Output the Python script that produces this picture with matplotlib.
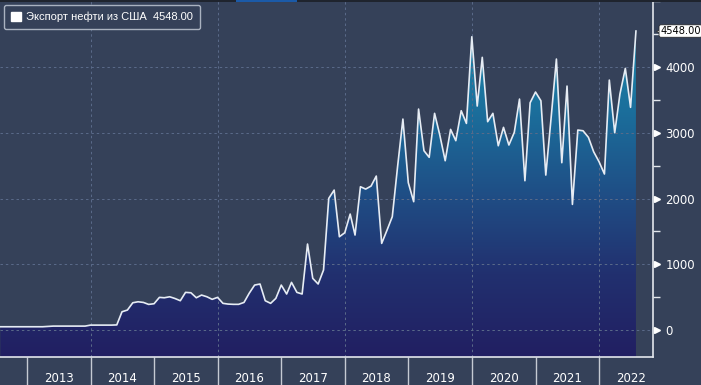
import numpy as np
import pandas as pd
import matplotlib
matplotlib.use('Agg')
import matplotlib.pyplot as plt
import matplotlib.dates as mdates
from matplotlib.colors import LinearSegmentedColormap
from matplotlib.patches import Patch, Rectangle
from matplotlib.transforms import ScaledTranslation

# Monthly US crude exports, thousand barrels per day
months = pd.date_range('2012-08-01', '2022-08-01', freq='MS')
exports = [
    50, 50, 50, 50, 50, 50, 50, 50, 50,
    55, 60, 60, 60, 60, 60, 60, 60,
    75, 75, 75, 75, 75, 78,
    278, 304, 415, 430, 420, 390, 400, 497, 491, 506, 480, 446,
    573, 567, 491, 532, 506, 467, 497, 406, 395, 391, 391, 420,
    560, 684, 700, 446, 406, 482, 684, 548, 725, 573, 548, 1308,
    786, 700, 913, 2003, 2129, 1419, 1480, 1764, 1445, 2180, 2144, 2190,
    2342, 1318, 1521, 1724, 2500, 3209, 2241, 1952, 3361, 2728, 2627, 3296,
    2966, 2575, 3052, 2880, 3336, 3143, 4461, 3407, 4148, 3169, 3296, 2803,
    3083, 2814, 3007, 3513, 2271, 3457, 3620, 3487, 2357, 3240, 4122, 2545,
    3711, 1911, 3042, 3031, 2931, 2712, 2560, 2373, 3802, 3001, 3589, 3980,
    3387, 4548,
]
series_label = 'Экспорт нефти из США'
last_value = exports[-1]

y_major = [0, 1000, 2000, 3000, 4000]
y_minor = [500, 1500, 2500, 3500, 4500, 5000]
years = list(range(2013, 2023))

bg = '#354159'
line_col = '#e6ecf4'
axis_col = '#e2e6ec'
grid_col = '#5b6b8a'

fig = plt.figure(figsize=(7.01, 3.85), dpi=100, facecolor=bg)
ax = fig.add_axes([0, 28 / 385, 653 / 701, 357 / 385], facecolor=bg)

x = mdates.date2num(months)
y = np.array(exports, dtype=float)
ymin, ymax = -410, 5020
xmin = mdates.date2num(pd.Timestamp('2012-07-30'))
xmax = mdates.date2num(pd.Timestamp('2022-11-07'))

# gradient area under the line
cmap = LinearSegmentedColormap.from_list('fill', ['#211f62', '#22306f', '#1f4f86', '#1b6f9c', '#1d88aa'])
fill = ax.fill_between(x, ymin, y, facecolor='none', edgecolor='none')
grad = np.linspace(0, 1, 256).reshape(-1, 1)
im = ax.imshow(grad, extent=[x[0], x[-1], ymin, 4600], origin='lower', aspect='auto',
               cmap=cmap, zorder=1)
im.set_clip_path(fill.get_paths()[0], transform=ax.transData)

ax.plot(x, y, color=line_col, lw=1.2, zorder=3)

ax.set_xlim(xmin, xmax)
ax.set_ylim(ymin, ymax)

# grid
for v in y_major + [5000]:
    ax.axhline(v, color=grid_col, lw=0.7, ls=(0, (2.5, 3)), zorder=2)
for yr in range(2014, 2023, 2):
    ax.axvline(mdates.date2num(pd.Timestamp(f'{yr}-01-01')), color=grid_col, lw=0.7,
               ls=(0, (2.5, 3)), zorder=2)

# spines
for s in ['top', 'left']:
    ax.spines[s].set_visible(False)
for s in ['right', 'bottom']:
    ax.spines[s].set_color(axis_col)
    ax.spines[s].set_linewidth(1.2)

# right axis
ax.yaxis.tick_right()
ax.set_yticks(y_major)
ax.set_yticklabels([str(v) for v in y_major])
ax.set_yticks(y_minor, minor=True)
ax.tick_params(axis='y', which='major', length=0, pad=9, labelsize=8.5, labelcolor='white')
ax.tick_params(axis='y', which='minor', length=5, width=1, color=axis_col, direction='out')
tri = ax.get_yaxis_transform() + ScaledTranslation(2.8 / 72, 0, fig.dpi_scale_trans)
ax.plot([1] * len(y_major), y_major, marker='>', ms=4.2, color='white', ls='none',
        transform=tri, clip_on=False, zorder=5)

# x axis: year separators + centered labels
ax.set_xticks([mdates.date2num(pd.Timestamp(f'{yr}-01-01')) for yr in years], minor=True)
ax.set_xticks([mdates.date2num(pd.Timestamp(f'{yr}-07-02')) for yr in years])
ax.set_xticklabels([str(yr) for yr in years])
ax.tick_params(axis='x', which='minor', length=21, width=1, color='#c5cad3', direction='out')
ax.tick_params(axis='x', which='major', length=0, pad=11, labelsize=8.5, labelcolor='white')

# last value tag: small pointer + white box
ptr = ax.get_yaxis_transform() + ScaledTranslation(4 / 72, 0, fig.dpi_scale_trans)
ax.plot([1], [last_value], marker='<', ms=5, color='white', mec='#222222', mew=0.5,
        ls='none', transform=ptr, clip_on=False, zorder=6)
ax.annotate(f'{last_value:.2f}', xy=(1, last_value), xycoords=ax.get_yaxis_transform(),
            xytext=(5.2, 0), textcoords='offset points', va='center', ha='left',
            fontsize=7.1, color='black', annotation_clip=False, zorder=7,
            bbox=dict(boxstyle='round,pad=0.12,rounding_size=0.2', fc='white',
                      ec='#222222', lw=0.5))

# legend
leg = ax.legend(handles=[Patch(facecolor='white', edgecolor='white')],
                labels=[f'{series_label}  {last_value:.2f}'],
                loc='upper left', bbox_to_anchor=(4 / 653, 1 - 5 / 357), borderaxespad=0,
                prop={'family': 'Liberation Sans', 'size': 8},
                handlelength=0.9, handleheight=0.9, handletextpad=0.5,
                borderpad=0.6, facecolor=bg, edgecolor='#aab2c0', framealpha=1,
                fancybox=True)
for t in leg.get_texts():
    t.set_color('white')

# dark strip along the top edge with the blue marker segment
fig.patches.append(Rectangle((0, 383 / 385), 1, 2 / 385, transform=fig.transFigure,
                             facecolor='#1f242e', edgecolor='none', zorder=10))
fig.patches.append(Rectangle((236 / 701, 383 / 385), 61 / 701, 2 / 385, transform=fig.transFigure,
                             facecolor='#1b5aa8', edgecolor='none', zorder=11))

plt.savefig('out.png', dpi=100, facecolor=bg)
plt.close()
